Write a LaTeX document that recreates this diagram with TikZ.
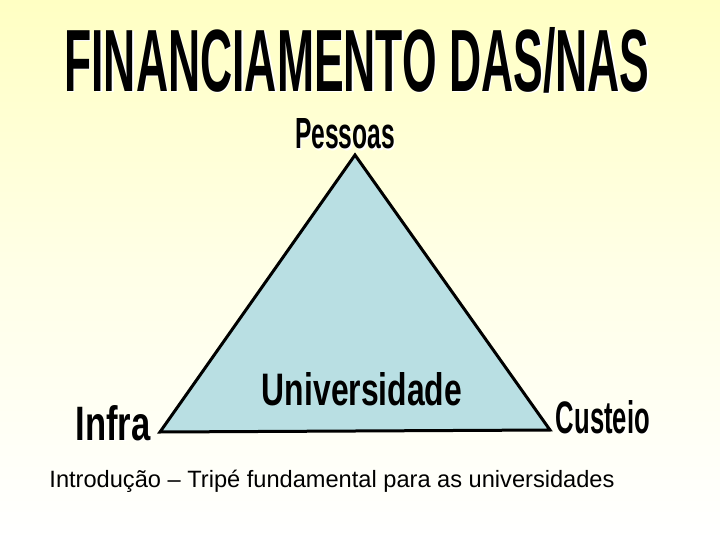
\documentclass[tikz,border=0pt]{standalone}
\usepackage{fontspec}
\setmainfont{Liberation Sans}
\usepackage{graphicx}
\definecolor{bgy}{RGB}{255,255,195}
\definecolor{tri}{RGB}{185,223,227}
\tikzset{
  heavy/.style={inner sep=0pt, text=black, font=\bfseries},
  shadowtxt/.style={inner sep=0pt, text=white, font=\bfseries},
}
\newcommand{\imp}[4]{%
  \node[shadowtxt] at ([xshift=1.5pt,yshift=-1.5pt]#1) {\resizebox{#2}{#3}{#4}};
  \node[heavy] (#1n) at (#1) {\resizebox{#2}{#3}{#4}};}
\begin{document}
\begin{tikzpicture}[x=1pt,y=-1pt]
\useasboundingbox (0,0) rectangle (720,540);
\shade[shading=axis, shading angle=45, top color=bgy, bottom color=white, middle color=bgy!40] (0,0) rectangle (720,540);
\coordinate (tt) at (357,60);
\coordinate (tp) at (345,134);
\coordinate (tu) at (362,389);
\coordinate (ti) at (113,423);
\coordinate (tc) at (603,417);
\imp{tt}{585pt}{64pt}{FINANCIAMENTO DAS/NAS}
\imp{tp}{100pt}{30pt}{Pessoas}
\imp{ti}{75pt}{35pt}{Infra}
\imp{tc}{94pt}{33pt}{Custeio}
\coordinate (a) at (355,155);
\coordinate (b) at (160,432);
\coordinate (c) at (550,430);
\filldraw[fill=tri, draw=black, line width=3pt, line join=miter] (a) -- (b) -- (c) -- cycle;
\node[heavy] (u2) at (tu) {\resizebox{200pt}{33pt}{Universidade}};
\node[inner sep=0pt] (cap) at (332,481) {\resizebox{565pt}{!}{Introdução – Tripé fundamental para as universidades}};
\end{tikzpicture}
\end{document}
